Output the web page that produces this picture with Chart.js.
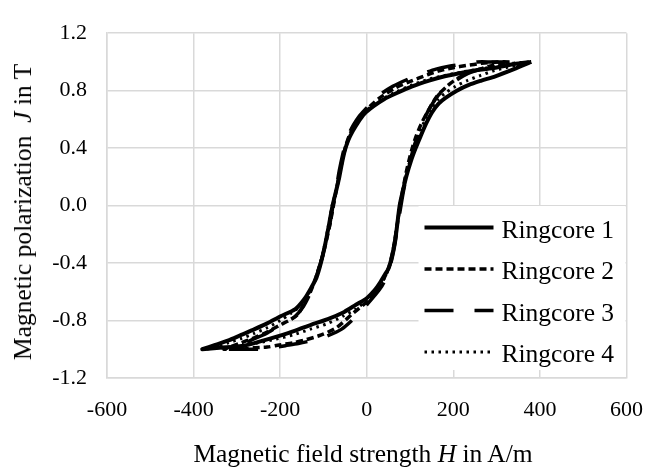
<!DOCTYPE html>
<html><head><meta charset="utf-8">
<style>
html,body{margin:0;padding:0;background:#fff;}
#wrap{position:relative;width:662px;height:468px;overflow:hidden;}
#c{position:absolute;left:0;top:0;}
.ttl{position:absolute;font-family:'Liberation Serif','Times New Roman',serif;font-size:25.5px;line-height:26px;color:#000;white-space:nowrap;}
#xt{left:363px;top:441px;transform:translateX(-50%);}
#yt{left:23px;top:212px;transform:translate(-50%,-50%) rotate(-90deg);}
</style>
<script src="https://cdn.jsdelivr.net/npm/chart.js@4.4.1/dist/chart.umd.min.js"></script>
</head>
<body>
<div id="wrap">
<canvas id="c" width="662" height="468"></canvas>
<div id="xt" class="ttl">Magnetic field strength <i>H</i> in A/m</div>
<div id="yt" class="ttl">Magnetic polarization &nbsp;<i>J</i> in T</div>
</div>
<script>
// Series labels
const seriesLabels = ['Ringcore 1', 'Ringcore 2', 'Ringcore 3', 'Ringcore 4'];
// Axis ticks
const xTicks = [-600, -400, -200, 0, 200, 400, 600];
const yTicks = [-1.2, -0.8, -0.4, 0.0, 0.4, 0.8, 1.2];

// Ringcore 1 (H in A/m, J in T): descending branch, then ascending branch
const r1DescH = [380, 340, 297, 260, 220, 180, 144, 105, 67, 40, 15, -5, -20, -32, -42, -50, -57, -64, -71, -79, -87, -96, -106, -116, -128, -144, -165, -199, -230, -259, -290, -321, -350, -380];
const r1DescJ = [1.00, 0.985, 0.96, 0.945, 0.925, 0.90, 0.87, 0.83, 0.78, 0.74, 0.69, 0.64, 0.58, 0.52, 0.46, 0.39, 0.30, 0.19, 0.10, 0.00, -0.13, -0.27, -0.40, -0.50, -0.57, -0.65, -0.72, -0.77, -0.82, -0.86, -0.90, -0.94, -0.97, -1.00];
const r1AscH = [-380, -340, -283, -240, -206, -165, -129, -90, -52, -25, 0, 18, 32, 42, 50, 56, 62, 68, 76, 84, 92, 102, 113, 124, 137, 151, 166, 182, 208, 236, 265, 297, 340, 380];
const r1AscJ = [-1.00, -0.99, -0.975, -0.94, -0.91, -0.87, -0.83, -0.79, -0.74, -0.69, -0.645, -0.59, -0.53, -0.48, -0.44, -0.38, -0.30, -0.19, 0.00, 0.11, 0.21, 0.31, 0.40, 0.48, 0.57, 0.65, 0.71, 0.75, 0.80, 0.84, 0.87, 0.90, 0.95, 1.00];

// Ringcore 2
const r2DescH = [330, 300, 265, 230, 200, 170, 140, 105, 67, 30, 0, -18, -30, -40, -48, -55, -62, -69, -77, -85, -93, -101, -110, -120, -130, -144, -160, -180, -200, -230, -260, -295, -330];
const r2DescJ = [1.00, 1.00, 0.99, 0.975, 0.96, 0.94, 0.91, 0.87, 0.82, 0.75, 0.67, 0.61, 0.55, 0.49, 0.42, 0.34, 0.24, 0.13, 0.00, -0.13, -0.24, -0.34, -0.43, -0.52, -0.60, -0.68, -0.76, -0.80, -0.83, -0.88, -0.92, -0.96, -1.00];
const r2AscH = [-330, -290, -262, -230, -202, -170, -142, -105, -70, -32, 0, 20, 34, 44, 52, 58, 64, 70, 77, 84, 91, 98, 106, 115, 126, 140, 162, 185, 202, 230, 262, 295, 330];
const r2AscJ = [-1.00, -1.00, -0.99, -0.985, -0.97, -0.955, -0.935, -0.90, -0.85, -0.75, -0.67, -0.60, -0.54, -0.48, -0.42, -0.35, -0.26, -0.14, 0.00, 0.12, 0.23, 0.32, 0.41, 0.49, 0.57, 0.65, 0.76, 0.83, 0.87, 0.92, 0.95, 0.98, 1.00];

// Ringcore 3
const r3DescH = [320, 290, 255, 222, 190, 160, 130, 95, 60, 25, 0, -18, -31, -41, -49, -56, -63, -70, -78, -86, -94, -103, -112, -122, -132, -146, -165, -185, -205, -232, -262, -290, -320];
const r3DescJ = [1.00, 1.00, 1.00, 0.985, 0.97, 0.95, 0.92, 0.88, 0.83, 0.76, 0.68, 0.62, 0.56, 0.50, 0.43, 0.35, 0.25, 0.13, 0.00, -0.14, -0.25, -0.36, -0.45, -0.54, -0.62, -0.70, -0.77, -0.81, -0.84, -0.89, -0.93, -0.97, -1.00];
const r3AscH = [-320, -285, -250, -218, -188, -158, -128, -93, -58, -24, 0, 20, 35, 45, 53, 59, 65, 71, 79, 86, 93, 101, 109, 118, 128, 142, 166, 188, 206, 234, 264, 292, 320];
const r3AscJ = [-1.00, -1.00, -1.00, -0.99, -0.975, -0.96, -0.94, -0.91, -0.86, -0.77, -0.69, -0.62, -0.56, -0.50, -0.43, -0.36, -0.27, -0.15, 0.00, 0.12, 0.22, 0.32, 0.41, 0.49, 0.57, 0.66, 0.77, 0.83, 0.87, 0.92, 0.95, 0.98, 1.00];

// Ringcore 4
const r4DescH = [375, 335, 300, 260, 220, 180, 144, 105, 67, 40, 15, -5, -20, -32, -42, -50, -57, -64, -72, -80, -88, -97, -108, -118, -130, -150, -175, -200, -230, -260, -290, -320, -348, -375];
const r4DescJ = [1.00, 0.99, 0.97, 0.95, 0.93, 0.905, 0.88, 0.84, 0.79, 0.75, 0.70, 0.65, 0.59, 0.53, 0.46, 0.39, 0.30, 0.19, 0.09, 0.00, -0.13, -0.27, -0.42, -0.51, -0.59, -0.69, -0.75, -0.80, -0.85, -0.89, -0.925, -0.955, -0.98, -1.00];
const r4AscH = [-375, -335, -290, -250, -210, -170, -130, -90, -55, -25, 0, 17, 30, 40, 48, 55, 61, 68, 76, 84, 92, 101, 112, 122, 135, 150, 165, 180, 205, 232, 262, 295, 335, 375];
const r4AscJ = [-1.00, -0.99, -0.975, -0.955, -0.93, -0.90, -0.86, -0.82, -0.77, -0.72, -0.66, -0.61, -0.56, -0.51, -0.46, -0.40, -0.31, -0.18, 0.00, 0.11, 0.22, 0.32, 0.42, 0.50, 0.60, 0.68, 0.74, 0.78, 0.83, 0.87, 0.905, 0.94, 0.97, 1.00];

function loop(dh, dj, ah, aj) {
  const pts = dh.map((h, i) => ({x: h, y: dj[i]}));
  return pts.concat(ah.map((h, i) => ({x: h, y: aj[i]})));
}

const FONT = "'Liberation Serif','Times New Roman',serif";
const styles = [
  {w: 4, dash: []},
  {w: 3.5, dash: [7, 4]},
  {w: 3.5, dash: [29, 21]},
  {w: 3, dash: [2.5, 4.5]}
];
const loops = [
  loop(r1DescH, r1DescJ, r1AscH, r1AscJ),
  loop(r2DescH, r2DescJ, r2AscH, r2AscJ),
  loop(r3DescH, r3DescJ, r3AscH, r3AscJ),
  loop(r4DescH, r4DescJ, r4AscH, r4AscJ)
];

const datasets = loops.map((d, i) => ({
  label: seriesLabels[i],
  data: d,
  showLine: true,
  borderColor: '#000',
  backgroundColor: '#000',
  borderWidth: styles[i].w,
  borderDash: styles[i].dash,
  borderJoinStyle: 'round',
  pointRadius: 0,
  tension: 0.25,
  fill: false
}));

const insideLegend = {
  id: 'insideLegend',
  afterDatasetsDraw(chart) {
    const ctx = chart.ctx, a = chart.chartArea;
    const bx = a.right - 208, by = a.bottom - 172, bw = 207, bh = 164;
    ctx.save();
    ctx.fillStyle = '#fff';
    ctx.fillRect(bx, by, bw, bh);
    ctx.font = '25.5px ' + FONT;
    ctx.fillStyle = '#000';
    ctx.textBaseline = 'alphabetic';
    ctx.textAlign = 'left';
    chart.data.datasets.forEach((ds, i) => {
      const y = by + 21.5 + i * 41.5;
      ctx.beginPath();
      ctx.lineWidth = ds.borderWidth;
      ctx.strokeStyle = '#000';
      ctx.setLineDash(ds.borderDash);
      ctx.lineCap = 'butt';
      ctx.moveTo(bx + 6, y);
      ctx.lineTo(bx + 75, y);
      ctx.stroke();
      ctx.setLineDash([]);
      ctx.fillText(ds.label, bx + 83, y + 10);
    });
    ctx.restore();
  }
};

new Chart(document.getElementById('c'), {
  type: 'scatter',
  data: {datasets},
  plugins: [insideLegend],
  options: {
    responsive: false,
    animation: false,
    devicePixelRatio: 1,
    layout: {padding: {left: 0, top: 19, right: 34, bottom: 0}},
    plugins: {legend: {display: false}, tooltip: {enabled: false}},
    scales: {
      x: {
        type: 'linear', min: xTicks[0], max: xTicks[xTicks.length - 1],
        afterBuildTicks: s => { s.ticks = xTicks.map(v => ({value: v})); },
        ticks: {color: '#000', font: {family: FONT, size: 22}, padding: 19, callback: v => String(v)},
        grid: {color: '#d9d9d9', lineWidth: 1.5, drawTicks: false},
        border: {color: '#d9d9d9', width: 1.5},
        afterFit: s => { s.height = 90; }
      },
      y: {
        type: 'linear', min: yTicks[0], max: yTicks[yTicks.length - 1],
        afterBuildTicks: s => { s.ticks = yTicks.map(v => ({value: v})); },
        ticks: {color: '#000', font: {family: FONT, size: 22}, padding: 20, callback: v => Number(v).toFixed(1)},
        grid: {color: '#d9d9d9', lineWidth: 1.5, drawTicks: false},
        border: {color: '#d9d9d9', width: 1.5},
        afterFit: s => { s.width = 107; }
      }
    }
  }
});
</script>
</body></html>
